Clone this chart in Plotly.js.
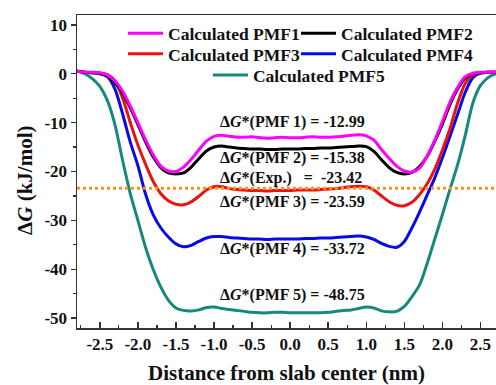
<!DOCTYPE html>
<html>
<head>
<meta charset="utf-8">
<script src="https://cdn.plot.ly/plotly-3.0.1.min.js"></script>
<style>html,body{margin:0;padding:0;background:#fff;}#chart{width:496px;height:385px;}</style>
</head>
<body>
<div id="chart"></div>
<script>
// ---- data ----
var distance = [-2.8,-2.7,-2.6,-2.5,-2.4,-2.3,-2.2,-2.1,-2.0,-1.9,-1.8,-1.7,-1.6,-1.5,-1.4,-1.3,-1.2,-1.1,-1.0,-0.9,-0.8,-0.7,-0.6,-0.5,-0.4,-0.3,-0.2,-0.1,0.0,0.1,0.2,0.3,0.4,0.5,0.6,0.7,0.8,0.9,1.0,1.1,1.2,1.3,1.4,1.5,1.6,1.7,1.8,1.9,2.0,2.1,2.2,2.3,2.4,2.5,2.6,2.7,2.8];
var pmf1 = [0.5,0.3,0.3,0.2,-0.3,-1.5,-3.6,-6.6,-10.0,-13.5,-16.6,-18.9,-19.9,-20.0,-19.1,-17.5,-15.6,-13.8,-12.8,-12.6,-12.8,-13.0,-13.0,-12.9,-13.1,-13.2,-13.1,-13.0,-13.1,-13.1,-13.0,-12.9,-13.0,-13.0,-12.9,-12.8,-12.6,-12.5,-12.7,-13.6,-15.5,-17.3,-18.9,-19.9,-20.1,-19.3,-16.8,-13.6,-9.8,-5.8,-2.8,-0.6,0.1,0.3,0.3,0.3,0.3];
var pmf2 = [0.5,0.3,0.2,0.1,-0.5,-1.9,-4.0,-7.0,-10.4,-13.9,-17.0,-19.2,-20.3,-20.5,-20.3,-19.1,-17.4,-15.8,-15.0,-14.8,-15.0,-15.2,-15.3,-15.4,-15.4,-15.5,-15.5,-15.4,-15.4,-15.4,-15.3,-15.3,-15.2,-15.2,-15.1,-15.0,-14.9,-14.8,-14.9,-15.9,-17.6,-19.2,-20.2,-20.5,-20.2,-19.0,-16.9,-13.8,-10.3,-6.3,-3.1,-0.9,0.0,0.2,0.3,0.3,0.3];
var pmf3 = [0.5,0.3,0.2,0.1,-0.2,-1.5,-5.0,-10.0,-14.6,-18.5,-22.0,-24.5,-26.0,-26.7,-26.8,-26.2,-25.1,-23.8,-23.1,-23.1,-23.5,-23.7,-23.8,-23.9,-23.9,-24.0,-23.9,-23.9,-23.9,-23.8,-23.8,-23.8,-23.7,-23.6,-23.5,-23.3,-23.1,-23.0,-23.1,-23.8,-25.0,-26.2,-26.9,-27.0,-26.3,-24.7,-22.5,-19.5,-15.6,-11.2,-6.0,-2.0,-0.2,0.2,0.3,0.3,0.3];
var pmf4 = [0.5,0.3,0.2,0.0,-0.6,-3.2,-8.3,-14.0,-18.8,-24.6,-28.8,-31.5,-33.4,-34.8,-35.4,-35.1,-34.3,-33.6,-33.3,-33.3,-33.5,-33.6,-33.7,-33.8,-33.8,-33.9,-33.8,-33.8,-33.8,-33.8,-33.7,-33.7,-33.6,-33.6,-33.5,-33.4,-33.3,-33.2,-33.4,-33.9,-34.7,-35.3,-35.5,-34.3,-31.5,-28.3,-24.8,-21.3,-17.2,-12.8,-8.3,-3.8,-0.8,0.1,0.3,0.3,0.3];
var pmf5 = [0.5,0.0,-1.0,-2.6,-5.5,-10.5,-17.8,-24.5,-30.0,-35.5,-40.0,-43.6,-46.3,-47.9,-48.4,-48.5,-48.3,-47.8,-47.7,-48.0,-48.2,-48.4,-48.6,-48.8,-48.9,-48.9,-48.8,-48.8,-48.9,-48.9,-48.9,-48.9,-48.9,-48.8,-48.6,-48.4,-48.3,-48.0,-47.7,-47.9,-48.5,-48.7,-48.6,-47.6,-45.6,-43.2,-38.8,-33.8,-28.8,-23.6,-18.6,-12.6,-6.0,-2.4,-0.8,0.0,0.2];
var seriesNames = ['Calculated PMF1','Calculated PMF2','Calculated PMF3','Calculated PMF4','Calculated PMF5'];
var dgLabels = ['PMF 1','PMF 2','PMF 3','PMF 4','PMF 5'];
var dgValues = [-12.99, -15.38, -23.59, -33.72, -48.75];
var expValue = -23.42;
var xTickVals = [-2.5,-2.0,-1.5,-1.0,-0.5,0.0,0.5,1.0,1.5,2.0,2.5];
var xTickText = ['-2.5','-2.0','-1.5','-1.0','-0.5','0.0','0.5','1.0','1.5','2.0','2.5'];
var yTickVals = [10,0,-10,-20,-30,-40,-50];
var yTickText = ['10','0','-10','-20','-30','-40','-50'];

// ---- styling ----
var FONT = 'Liberation Serif, Times New Roman, serif';
var colors = ['#ff00ff','#000000','#ee1111','#0a0ae8','#17877f'];
var allY = [pmf1,pmf2,pmf3,pmf4,pmf5];
var legendIds = ['legend','legend2','legend3','legend4','legend5'];
var legendPos = [[0.1098,0.9415],[0.5227,0.9415],[0.1098,0.8754],[0.5227,0.8754],[0.3126,0.8083]];
var drawOrder = [4,3,2,1,0];

var traces = drawOrder.map(function(i){
  return {
    x: distance, y: allY[i], type:'scatter', mode:'lines',
    name: seriesNames[i], legend: legendIds[i],
    line: {color: colors[i], width: 3, shape:'spline', smoothing: 0.8}
  };
});

var layout = {
  width: 496, height: 385,
  margin: {l:77, r:0, t:15, b:57, pad:0},
  paper_bgcolor:'#ffffff', plot_bgcolor:'#ffffff',
  font: {family: FONT, size: 16, color:'#111111', weight:'bold'},
  showlegend: true,
  xaxis: {
    range: [-2.8, 2.704], tickmode:'array', tickvals: xTickVals, ticktext: xTickText,
    ticks:'inside', ticklen:6, tickwidth:1.5, tickcolor:'#333',
    minor: {ticks:'inside', ticklen:3, tickwidth:1.2, tickcolor:'#333', tick0:0, dtick:0.25},
    showline:true, linecolor:'#333', linewidth:1.5, mirror:true,
    showgrid:false, zeroline:false,
    tickfont:{family:FONT, size:17, color:'#111', weight:'bold'},
    title:{text:'Distance from slab center (nm)', font:{family:FONT, size:21, color:'#111', weight:'bold'}, standoff:12}
  },
  yaxis: {
    range: [-52, 12], tickmode:'array', tickvals: yTickVals, ticktext: yTickText,
    ticks:'outside', ticklen:5, tickwidth:1.5, tickcolor:'#333',
    minor: {ticks:'outside', ticklen:3, tickwidth:1.2, tickcolor:'#333', tick0:0, dtick:5},
    showline:true, linecolor:'#333', linewidth:1.5, mirror:false,
    showgrid:false, zeroline:false,
    tickfont:{family:FONT, size:17, color:'#111', weight:'bold'}
  },
  shapes: [{
    type:'line', xref:'paper', x0:0, x1:1, yref:'y', y0:expValue, y1:expValue,
    line:{color:'#f7941d', width:3, dash:'dot'}, layer:'above'
  }],
  annotations: [{
    xref:'paper', yref:'paper', x:-0.124, y:0.47, xanchor:'center', yanchor:'middle',
    textangle:-90, showarrow:false, text:'Δ<i>G</i> (kJ/mol)',
    font:{family:FONT, size:21, color:'#111', weight:'bold'}
  }]
};

legendIds.forEach(function(id, k){
  layout[id] = {
    x: legendPos[k][0], y: legendPos[k][1], xanchor:'left', yanchor:'middle',
    orientation:'h', bgcolor:'rgba(0,0,0,0)', borderwidth:0, itemwidth:35,
    font:{family:FONT, size:17.5, color:'#111', weight:'bold'}
  };
});

var annY = [-9.9, -17.2, -26.3, -35.8, -45.3];
dgLabels.forEach(function(lbl, k){
  layout.annotations.push({
    x:-0.945, y: annY[k], xref:'x', yref:'y', xanchor:'left', yanchor:'middle', showarrow:false,
    text: 'Δ<i>G</i>*(' + lbl + ') = ' + dgValues[k].toFixed(2),
    font:{family:FONT, size:16, color:'#111', weight:'bold'}
  });
});
layout.annotations.push({
  x:-0.945, y:-21.35, xref:'x', yref:'y', xanchor:'left', yanchor:'middle', showarrow:false,
  text: 'Δ<i>G</i>*(Exp.)\u00a0\u00a0\u00a0=\u00a0\u00a0' + expValue.toFixed(2),
  font:{family:FONT, size:16, color:'#111', weight:'bold'}
});

Plotly.newPlot('chart', traces, layout, {staticPlot:true, displayModeBar:false});
</script>
</body>
</html>
